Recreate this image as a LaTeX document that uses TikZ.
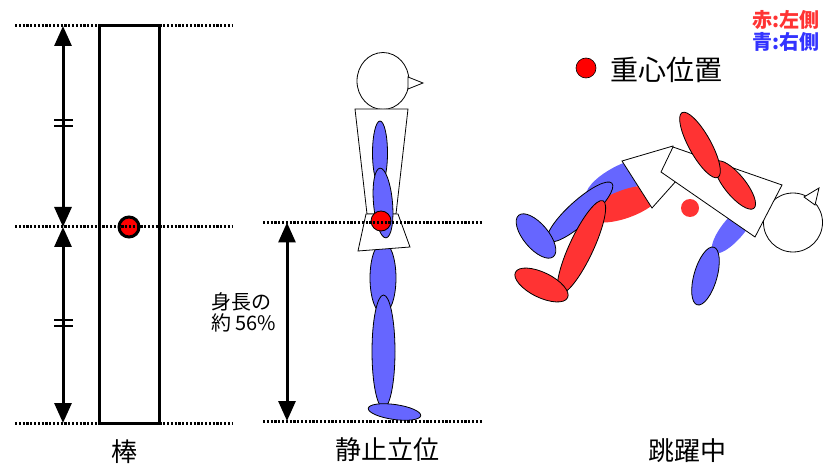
\documentclass[tikz,border=0pt]{standalone}
\usepackage{fontspec}
\setmainfont{Noto Sans CJK JP}
\usepackage{xcolor}
\usepackage{tikz}
\usetikzlibrary{arrows.meta, positioning, calc}
\definecolor{LimbRed}{RGB}{255,51,51}
\definecolor{LimbBlue}{RGB}{102,102,255}
\definecolor{CogRed}{RGB}{255,0,0}
\definecolor{SideRed}{RGB}{255,51,51}
\definecolor{SideBlue}{RGB}{51,51,255}

\begin{document}
\begin{tikzpicture}[
    x=1pt, y=-1pt,
    level/.style={line width=3pt, dash pattern=on 2.2pt off 1.6pt},
    dimarrow/.style={{Triangle[length=20pt,width=17pt]}-{Triangle[length=20pt,width=17pt]}, line width=3pt},
    eqtick/.style={line width=2pt},
    body/.style={draw, fill=white, line width=0.8pt},
    limbB/.style={draw, fill=LimbBlue, line width=0.8pt},
    limbR/.style={draw, fill=LimbRed, line width=0.8pt},
    cog/.style={circle, fill=CogRed, draw, inner sep=0pt, minimum size=20pt},
    caption/.style={font=\fontsize{26}{28}\selectfont},
    sidelabel/.style={anchor=east, inner sep=0pt, font=\fontsize{20}{20}\selectfont\bfseries},
]
\useasboundingbox (0,0) rectangle (823,468);

% ---- rod ----
\draw[line width=3pt] (99,26) rectangle (159,423);
\node[cog, line width=3pt] (rodCog) at (129,227) {};
\coordinate (rodTop) at (63,26);
\coordinate (rodMid) at (63,227);
\coordinate (rodBot) at (63,423);
\draw[dimarrow] (rodTop) -- (rodMid);
\draw[dimarrow] (rodMid) -- (rodBot);
\draw[eqtick] (54,120) -- (73,120) (54,126) -- (73,126);
\draw[eqtick] (54,320) -- (73,320) (54,326) -- (73,326);
\draw[level] (15,26) -- (233,26);
\draw[level] (15,227) -- (233,227);
\draw[level] (15,423) -- (233,423);
\node[caption] (rodLabel) at (124,452) {棒};

% ---- standing ----
\draw[body] (383,81) ellipse [x radius=26, y radius=28.5];
\draw[body] (408,77) -- (423,83) -- (408,89) -- cycle;
\draw[limbB] (383,278) ellipse [x radius=13, y radius=36];
\draw[limbB] (383.5,351.5) ellipse [x radius=11.5, y radius=56.5];
\draw[limbB, rotate around={-8:(394.5,412)}] (394.5,412) ellipse [x radius=26.5, y radius=7.5];
\draw[body] (355,109) -- (408,109) -- (396,214) -- (367,214) -- cycle;
\draw[body] (366,214) -- (398,214) -- (410,247) -- (358,251) -- cycle;
\draw[limbB] (380,153) ellipse [x radius=7.5, y radius=32];
\draw[limbB, rotate around={5:(383,203)}] (383,203) ellipse [x radius=9.5, y radius=35];
\node[cog, line width=0.8pt] (standCog) at (381,221) {};
\coordinate (standTop) at (287,222.5);
\coordinate (standBot) at (287,421);
\draw[dimarrow] (standTop) -- (standBot);
\draw[level] (263,222.5) -- (483,222.5);
\draw[level] (263,421) -- (483,421);
\node[anchor=west, align=left, inner sep=0pt, font=\fontsize{20}{21}\selectfont] (ratio) at (211,312) {身長の\\約 56\%};
\node[caption] (standLabel) at (387,450) {静止立位};

% ---- jumping ----
\fill[LimbBlue, rotate around={28:(620,180)}] (620,180) ellipse [x radius=38, y radius=14];
\fill[LimbRed, rotate around={20:(625,204)}] (625,204) ellipse [x radius=38, y radius=14];
\draw[limbB, rotate around={42:(580,212)}] (580,212) ellipse [x radius=43, y radius=11.5];
\draw[limbB, rotate around={-50:(536,236)}] (536,236) ellipse [x radius=27, y radius=12.5];
\draw[limbR, rotate around={65:(581.5,247)}] (581.5,247) ellipse [x radius=51, y radius=12];
\draw[limbR, rotate around={-26:(541.5,285)}] (541.5,285) ellipse [x radius=29, y radius=12.5];
\fill[LimbBlue, rotate around={50:(734,228)}] (734,228) ellipse [x radius=32, y radius=11];
\draw[limbB, rotate around={74:(705.5,276)}] (705.5,276) ellipse [x radius=30, y radius=11.5];
\draw[body] (793,222.5) circle [radius=29.5];
\draw[body] (804,197) -- (819,188) -- (815,205) -- cycle;
\draw[body] (622,161) -- (673,146) -- (677,180) -- (652,208) -- cycle;
\draw[body] (661,172) -- (673,147) -- (782,185) -- (755,237) -- cycle;
\draw[limbR, rotate around={-51:(735,185)}] (735,185) ellipse [x radius=30, y radius=10.5];
\draw[limbR, rotate around={-61:(700,145)}] (700,145) ellipse [x radius=37, y radius=11];
\node[circle, fill=LimbRed, inner sep=0pt, minimum size=18pt] (jumpCog) at (690,208) {};
\node[caption] (jumpLabel) at (687.5,451) {跳躍中};

% ---- legend ----
\node[cog, line width=0.6pt] (keyDot) at (586,68) {};
\node[anchor=west, inner sep=0pt, font=\fontsize{28}{30}\selectfont] (keyText) at (610,70) {重心位置};
\node[sidelabel, text=SideRed] (leftSide) at (820,20) {赤:左側};
\node[sidelabel, text=SideBlue, below=2pt of leftSide.south east, anchor=north east] (rightSide) {青:右側};
\end{tikzpicture}
\end{document}
